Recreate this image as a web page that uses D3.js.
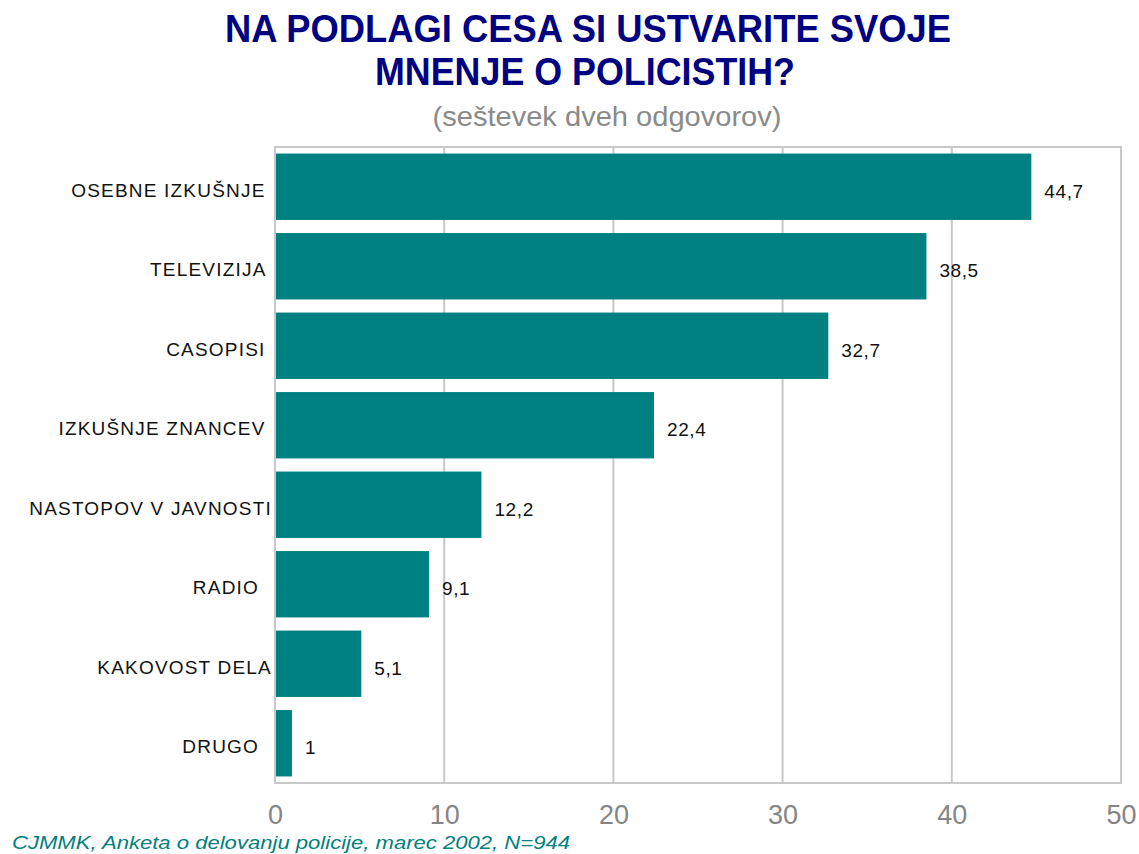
<!DOCTYPE html>
<html>
<head>
<meta charset="utf-8">
<script src="https://cdn.jsdelivr.net/npm/d3@7"></script>
<style>
  html, body { margin: 0; padding: 0; background: #fff; }
  svg { display: block; font-family: "Liberation Sans", Arial, sans-serif; }
</style>
</head>
<body>
<svg id="chart" width="1139" height="854"></svg>
<script>
const categories = ["OSEBNE IZKUŠNJE ", "TELEVIZIJA ", "CASOPISI ", "IZKUŠNJE ZNANCEV ",
                    "NASTOPOV V JAVNOSTI", "RADIO  ", "KAKOVOST DELA", "DRUGO  "];
const values = [44.7, 38.5, 32.7, 22.4, 12.2, 9.1, 5.1, 1];
const valueLabels = ["44,7", "38,5", "32,7", "22,4", "12,2", "9,1", "5,1", "1"];
const xTicks = [0, 10, 20, 30, 40, 50];
const titleLines = ["NA PODLAGI CESA SI USTVARITE SVOJE", "MNENJE O POLICISTIH?"];
const subtitle = "(seštevek dveh odgovorov)";
const footer = "CJMMK, Anketa o delovanju policije, marec 2002, N=944";

const svg = d3.select("#chart");
const m = {left: 275, right: 1121, top: 147, bottom: 783};

const x = d3.scaleLinear().domain([0, 50]).range([m.left, m.right]);
const y = d3.scaleBand().domain(categories).range([m.top, m.bottom]).paddingInner(0.165).paddingOuter(0.0825);

// gridlines
svg.append("g").selectAll("line").data(xTicks).join("line")
  .attr("x1", d => x(d)).attr("x2", d => x(d))
  .attr("y1", m.top).attr("y2", m.bottom)
  .attr("stroke", "#c8c8c8").attr("stroke-width", 2);
// frame top & bottom
svg.append("line").attr("x1", m.left - 1).attr("x2", m.right + 1).attr("y1", m.top).attr("y2", m.top)
  .attr("stroke", "#c8c8c8").attr("stroke-width", 2);
svg.append("line").attr("x1", m.left - 1).attr("x2", m.right + 1).attr("y1", m.bottom).attr("y2", m.bottom)
  .attr("stroke", "#c8c8c8").attr("stroke-width", 2);

// bars
svg.append("g").selectAll("rect").data(values).join("rect")
  .attr("x", x(0) + 1)
  .attr("y", (d, i) => y(categories[i]))
  .attr("width", d => x(d) - x(0) - 1)
  .attr("height", y.bandwidth())
  .attr("fill", "#008080");

// value labels
svg.append("g").selectAll("text").data(values).join("text")
  .attr("x", d => x(d) + 13)
  .attr("y", (d, i) => y(categories[i]) + y.bandwidth() / 2 + 4)
  .attr("dy", "0.36em")
  .attr("font-size", 19)
  .attr("letter-spacing", 0.6)
  .attr("fill", "#111")
  .text((d, i) => valueLabels[i]);

// category labels
svg.append("g").selectAll("text").data(categories).join("text")
  .attr("x", 272)
  .attr("y", d => y(d) + y.bandwidth() / 2 + 3)
  .attr("dy", "0.36em")
  .attr("text-anchor", "end")
  .attr("font-size", 19)
  .attr("letter-spacing", 1.2)
  .attr("fill", "#111")
  .style("white-space", "pre")
  .text(d => d);

// x axis
const xAxis = svg.append("g").attr("transform", `translate(0,${m.bottom})`)
  .call(d3.axisBottom(x).tickValues(xTicks).tickSize(0).tickPadding(0));
xAxis.select(".domain").remove();
xAxis.selectAll("text")
  .attr("y", 41)
  .attr("dy", 0)
  .attr("font-size", 27)
  .attr("font-family", "Liberation Sans, Arial, sans-serif")
  .attr("fill", "#858585");

// titles
svg.append("text").attr("x", 588).attr("y", 42).attr("text-anchor", "middle")
  .attr("font-size", 38).attr("font-weight", "bold").attr("fill", "#000080")
  .attr("textLength", 726).attr("lengthAdjust", "spacingAndGlyphs")
  .text(titleLines[0]);
svg.append("text").attr("x", 585).attr("y", 85).attr("text-anchor", "middle")
  .attr("font-size", 38).attr("font-weight", "bold").attr("fill", "#000080")
  .attr("textLength", 420).attr("lengthAdjust", "spacingAndGlyphs")
  .text(titleLines[1]);
svg.append("text").attr("x", 607).attr("y", 126).attr("text-anchor", "middle")
  .attr("font-size", 28).attr("fill", "#8a8a8a")
  .attr("textLength", 349).attr("lengthAdjust", "spacingAndGlyphs")
  .text(subtitle);

// footer
svg.append("text").attr("x", 12).attr("y", 849)
  .attr("font-size", 19).attr("font-style", "italic").attr("fill", "#008080")
  .attr("textLength", 558).attr("lengthAdjust", "spacingAndGlyphs")
  .text(footer);
</script>
</body>
</html>
